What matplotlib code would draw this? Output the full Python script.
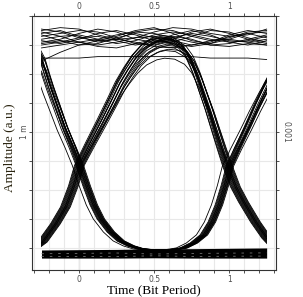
import matplotlib.pyplot as plt
from matplotlib.patches import Rectangle
from matplotlib.ticker import MultipleLocator

# Data (time in bit periods, amplitude in mV)
# ----------------------------------------------------------------------------

# isolated "1" pulse (rise at t=0, fall at t=1)
arch_x = [-0.30, -0.247, -0.160, -0.093, -0.040, 0.0, 0.073, 0.153, 0.220,
          0.273, 0.327, 0.380, 0.440, 0.507, 0.560, 0.627, 0.693, 0.740,
          0.787, 0.827, 0.867, 0.907, 0.947, 0.987, 1.040, 1.093, 1.173,
          1.247, 1.30]
arch_y = [0.20, 0.241, 0.366, 0.483, 0.628, 0.770, 0.925, 1.090, 1.232,
          1.348, 1.443, 1.526, 1.594, 1.636, 1.650, 1.642, 1.600, 1.531,
          1.414, 1.290, 1.166, 1.030, 0.895, 0.765, 0.620, 0.517, 0.379,
          0.269, 0.21]

# isolated "0" dip (fall at t=0, rise at t=1)
u_x = [-0.30, -0.247, -0.220, -0.193, -0.147, -0.100, -0.047, 0.0, 0.047,
       0.093, 0.140, 0.207, 0.273, 0.340, 0.407, 0.507, 0.607, 0.693, 0.760,
       0.827, 0.880, 0.927, 0.967, 1.0, 1.053, 1.120, 1.180, 1.247, 1.30]
u_y = [1.62, 1.515, 1.420, 1.330, 1.190, 1.045, 0.905, 0.770, 0.625, 0.497,
       0.400, 0.310, 0.248, 0.214, 0.193, 0.186, 0.186, 0.200, 0.234, 0.290,
       0.379, 0.497, 0.632, 0.765, 0.895, 1.050, 1.195, 1.345, 1.45]

# jitter / amplitude spread of the individual traces
arch_dx = [-0.01, 0.00, -0.02, 0.01, 0.02, -0.03, 0.005, -0.005, 0.025,
           -0.015, 0.015, 0.03, 0.00, -0.025, 0.01, 0.035]
arch_scale = [1.00, 0.98, 1.01, 0.96, 0.99, 1.00, 0.93, 0.97, 0.95, 1.02,
              0.90, 0.94, 0.99, 0.97, 0.84, 0.91]
u_dx = [0.00, -0.01, 0.01, 0.02, -0.02, 0.005, 0.015, -0.005, 0.025, 0.03,
        -0.015, 0.01, 0.00, 0.02, -0.045]
u_scale = [1.00, 0.97, 0.94, 0.99, 0.92, 0.96, 0.90, 1.00, 0.95, 0.88,
           0.98, 0.93, 0.86, 0.97, 0.88]

# "1" -> "1" traces
high_t = [-0.25, -0.125, 0.0, 0.125, 0.25, 0.375, 0.5, 0.625, 0.75, 0.875,
          1.0, 1.125, 1.25]
high_traces = [
    [1.68, 1.70, 1.66, 1.62, 1.64, 1.69, 1.71, 1.70, 1.66, 1.63, 1.65, 1.69, 1.70],
    [1.63, 1.61, 1.64, 1.68, 1.70, 1.67, 1.63, 1.62, 1.66, 1.70, 1.69, 1.65, 1.62],
    [1.66, 1.68, 1.70, 1.69, 1.65, 1.61, 1.60, 1.64, 1.69, 1.71, 1.68, 1.64, 1.61],
    [1.60, 1.62, 1.65, 1.66, 1.63, 1.60, 1.62, 1.67, 1.70, 1.67, 1.62, 1.60, 1.63],
    [1.71, 1.69, 1.65, 1.63, 1.66, 1.70, 1.72, 1.68, 1.63, 1.61, 1.64, 1.68, 1.69],
    [1.64, 1.66, 1.67, 1.64, 1.61, 1.63, 1.67, 1.69, 1.67, 1.64, 1.62, 1.63, 1.66],
    [1.58, 1.60, 1.62, 1.64, 1.67, 1.69, 1.68, 1.65, 1.62, 1.60, 1.61, 1.64, 1.67],
    [1.69, 1.66, 1.62, 1.60, 1.62, 1.65, 1.66, 1.63, 1.60, 1.62, 1.67, 1.70, 1.68],
    [1.62, 1.64, 1.68, 1.71, 1.69, 1.64, 1.62, 1.65, 1.68, 1.66, 1.63, 1.62, 1.64],
    [1.67, 1.63, 1.60, 1.61, 1.65, 1.68, 1.65, 1.61, 1.59, 1.61, 1.66, 1.68, 1.65],
    [1.61, 1.63, 1.62, 1.59, 1.58, 1.61, 1.64, 1.66, 1.64, 1.60, 1.59, 1.61, 1.60],
    [1.70, 1.72, 1.71, 1.67, 1.64, 1.65, 1.69, 1.72, 1.71, 1.68, 1.66, 1.67, 1.71],
    [1.49, 1.55, 1.60, 1.63, 1.64, 1.62, 1.59, 1.58, 1.60, 1.63, 1.64, 1.62, 1.60],
    [1.51, 1.51, 1.51, 1.52, 1.52, 1.52, 1.52, 1.52, 1.52, 1.51, 1.51, 1.51, 1.50],
]

# "0" -> "0" band
low_t = [-0.25, 0.25, 0.5, 0.75, 1.25]
low_top = [0.186, 0.190, 0.195, 0.195, 0.200]
low_bot = [0.130, 0.130, 0.132, 0.130, 0.130]
low_gray = [
    [0.160, 0.165, 0.158, 0.162, 0.166],
    [0.142, 0.140, 0.146, 0.141, 0.144],
]

# Plot
# ----------------------------------------------------------------------------

fig = plt.figure(figsize=(3.03, 2.97), dpi=100)
ax = fig.add_axes([0.106, 0.091, 0.805, 0.855])

clip = Rectangle((-0.25, -1.0), 1.5, 4.0, transform=ax.transData)
xc = 0.77   # crossing level, spread only applied above it

for dx, s in zip(arch_dx, arch_scale):
    xs = [x + dx for x in arch_x]
    ys = [y if y < xc else xc + (y - xc) * s for y in arch_y]
    ln, = ax.plot(xs, ys, color='k', lw=0.6)
    ln.set_clip_path(clip)

for dx, s in zip(u_dx, u_scale):
    xs = [x + dx for x in u_x]
    ys = [y if y < xc else xc + (y - xc) * s for y in u_y]
    ln, = ax.plot(xs, ys, color='k', lw=0.6)
    ln.set_clip_path(clip)

for tr in high_traces:
    ax.plot(high_t, tr, color='k', lw=0.6)

ax.fill_between(low_t, low_bot, low_top, color='k', lw=0)
for tr in low_gray:
    ax.plot(low_t, tr, color='0.45', lw=0.6, dashes=(3, 7))

ax.axvline(0, color='0.35', lw=0.8, zorder=0)

ax.set_xlim(-0.3125, 1.3125)
ax.set_ylim(0.048, 1.80)
ax.set_xticks([0, 0.5, 1])
ax.set_xticklabels(['0', '0.5', '1'])
ax.xaxis.set_minor_locator(MultipleLocator(0.1))
ax.set_yticks([1.0])
ax.set_yticklabels(['1 m'], rotation=90, va='center')
ax.yaxis.set_minor_locator(MultipleLocator(0.2))
ax.grid(which='both', color='0.91', lw=0.8, zorder=0)
ax.set_axisbelow(True)
ax.tick_params(which='both', direction='out', length=2.5, width=0.6,
               color='0.2', labelsize=5.5, labelcolor='0.3', pad=1,
               top=True, labeltop=True)
ax.tick_params(axis='y', pad=0)
for sp in ax.spines.values():
    sp.set_color('0.2')
    sp.set_linewidth(0.8)

ax2 = ax.twinx()
ax2.set_ylim(ax.get_ylim())
ax2.set_yticks([1.0])
ax2.set_yticklabels(['0.001'], rotation=-90, va='center')
ax2.yaxis.set_minor_locator(MultipleLocator(0.2))
ax2.tick_params(which='both', direction='out', length=2.5, width=0.6,
                color='0.2', labelsize=5.5, labelcolor='0.3', pad=1.5)
for sp in ax2.spines.values():
    sp.set_visible(False)

ax.set_xlabel('Time (Bit Period)', family='Liberation Serif', fontsize=9.5,
              labelpad=0)
ax.set_ylabel('Amplitude (a.u.)', family='Liberation Serif', fontsize=9.5,
              color='#2a2410')
ax.yaxis.set_label_coords(-0.065, 0.48)

fig.savefig('out.png', dpi=100)
